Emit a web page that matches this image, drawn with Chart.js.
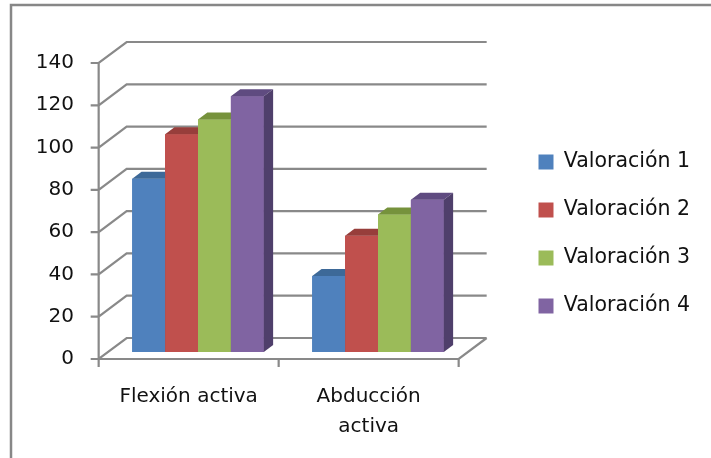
<!DOCTYPE html>
<html>
<head>
<meta charset="utf-8">
<script src="https://cdn.jsdelivr.net/npm/chart.js@4/dist/chart.umd.min.js"></script>
<style>
  html, body { margin: 0; padding: 0; background: #fff; overflow: hidden; }
  canvas { display: block; }
</style>
</head>
<body>
<canvas id="c" width="711" height="458"></canvas>
<script>
// ---- data ----
const categories = [['Flexión activa'], ['Abducción', 'activa']];
const seriesNames = ['Valoración 1', 'Valoración 2', 'Valoración 3', 'Valoración 4'];
const valoracion1 = [82, 36];
const valoracion2 = [103, 55];
const valoracion3 = [110, 65];
const valoracion4 = [121, 72];
const yTicks = [0, 20, 40, 60, 80, 100, 120, 140];

// ---- styling ----
const frontColors = ['#4F81BD', '#C0504D', '#9BBB59', '#8064A2'];
const topColors   = ['#3D6998', '#973E3B', '#76923C', '#5F4B80'];
const sideColors  = ['#35597F', '#86352F', '#6A8535', '#4F3F6B'];
const FONT = "'DejaVu Sans'";
const FS = 20;
const LEGEND_FS = 20.5;
const GRID = '#898989';
const TEXT = '#111';

// Oblique depth of the 3-D box; the bars sit in its middle third
const DEPTH_X = 28, DEPTH_Y = -21;
const BAR_D = 1 / 3;
const FRONT_X = -DEPTH_X * BAR_D, FRONT_Y = -DEPTH_Y * BAR_D;            // front plane, relative to bar plane
const BACK_X = DEPTH_X * (1 - BAR_D), BACK_Y = DEPTH_Y * (1 - BAR_D);    // back wall, relative to bar plane

const LEGEND_PAD = 27.5;
const LEGEND_W = 200;
const LEGEND_TOP = 56, LEGEND_BOTTOM = 412;

const box3d = {
  id: 'box3d',
  beforeLayout(chart) {
    // keep the legend box wide enough for its labels
    const lg = chart.legend;
    if (lg && !lg._fixedWidth) {
      const fit = lg.fit;
      lg.fit = function () { fit.call(this); this.width = LEGEND_W; };
      lg._fixedWidth = true;
    }
  },
  afterLayout(chart) {
    // centre the legend column beside the plot rather than the whole canvas
    const lg = chart.legend;
    if (lg) {
      lg.top = LEGEND_TOP;
      lg.bottom = LEGEND_BOTTOM;
      lg.height = LEGEND_BOTTOM - LEGEND_TOP;
    }
  },
  beforeDraw(chart) {
    const ctx = chart.ctx;
    ctx.save();
    ctx.strokeStyle = '#878787';
    ctx.lineWidth = 2.5;
    ctx.strokeRect(11, 5, 760, 520);
    ctx.restore();
  },
  beforeDatasetsDraw(chart) {
    const { ctx, chartArea: a, scales: { x, y } } = chart;
    const y0 = y.getPixelForValue(0);
    const yMax = y.getPixelForValue(y.max);
    ctx.save();
    ctx.strokeStyle = GRID;
    ctx.lineWidth = 2.2;
    ctx.beginPath();
    y.ticks.forEach(t => {
      const py = y.getPixelForValue(t.value);
      // tick mark on the front axis
      ctx.moveTo(a.left + FRONT_X - 8, py + FRONT_Y);
      ctx.lineTo(a.left + FRONT_X, py + FRONT_Y);
      // side wall and back wall gridline
      ctx.lineTo(a.left + BACK_X, py + BACK_Y);
      ctx.lineTo(a.right + BACK_X, py + BACK_Y);
    });
    // front value axis
    ctx.moveTo(a.left + FRONT_X, yMax + FRONT_Y);
    ctx.lineTo(a.left + FRONT_X, y0 + FRONT_Y + 8);
    // floor: front edge and right edge
    ctx.moveTo(a.left + FRONT_X, y0 + FRONT_Y);
    ctx.lineTo(a.right + FRONT_X, y0 + FRONT_Y);
    ctx.lineTo(a.right + BACK_X, y0 + BACK_Y);
    // category separators
    for (let i = 0; i <= categories.length; i++) {
      const px = x.getPixelForValue(i - 0.5) + FRONT_X;
      ctx.moveTo(px, y0 + FRONT_Y);
      ctx.lineTo(px, y0 + FRONT_Y + 8);
    }
    ctx.stroke();
    ctx.restore();
  },
  afterDatasetsDraw(chart) {
    // redraw columns left to right, each with its top and side faces
    const ctx = chart.ctx;
    const dx = DEPTH_X * BAR_D, dy = DEPTH_Y * BAR_D;
    const metas = chart.data.datasets.map((d, i) => chart.getDatasetMeta(i));
    for (let c = 0; c < categories.length; c++) {
      metas.forEach((m, i) => {
        const bar = m.data[c];
        bar.draw(ctx);
        const { x, y, base, width } = bar.getProps(['x', 'y', 'base', 'width'], true);
        const l = x - width / 2, r = x + width / 2;
        ctx.save();
        ctx.fillStyle = topColors[i];
        ctx.beginPath();
        ctx.moveTo(l, y); ctx.lineTo(l + dx, y + dy); ctx.lineTo(r + dx, y + dy); ctx.lineTo(r, y);
        ctx.closePath(); ctx.fill();
        ctx.fillStyle = sideColors[i];
        ctx.beginPath();
        ctx.moveTo(r, y); ctx.lineTo(r + dx, y + dy); ctx.lineTo(r + dx, base + dy); ctx.lineTo(r, base);
        ctx.closePath(); ctx.fill();
        ctx.restore();
      });
    }
  }
};

const seriesValues = [valoracion1, valoracion2, valoracion3, valoracion4];

new Chart(document.getElementById('c'), {
  type: 'bar',
  data: {
    labels: categories,
    datasets: seriesNames.map((name, i) => ({
      label: name,
      data: seriesValues[i],
      backgroundColor: frontColors[i],
      borderWidth: 0,
      barPercentage: 1,
      categoryPercentage: 0.731
    }))
  },
  options: {
    responsive: false,
    devicePixelRatio: 1,
    animation: false,
    layout: { padding: { top: 56, bottom: 16, left: 0, right: 0 } },
    plugins: {
      tooltip: { enabled: false },
      legend: {
        position: 'right',
        labels: {
          boxWidth: 15,
          boxHeight: 15,
          padding: LEGEND_PAD,
          color: TEXT,
          font: { family: FONT, size: LEGEND_FS }
        }
      }
    },
    scales: {
      x: {
        grid: { display: false, drawTicks: false },
        border: { display: false },
        ticks: {
          color: TEXT,
          font: { family: FONT, size: FS, lineHeight: 1.5 },
          padding: 30,
          labelOffset: FRONT_X,
          maxRotation: 0,
          autoSkip: false
        },
        afterFit(s) { s.height = 90; }
      },
      y: {
        min: 0,
        max: 140,
        grid: { display: false, drawTicks: false },
        border: { display: false },
        afterBuildTicks(s) { s.ticks = yTicks.map(v => ({ value: v })); },
        ticks: {
          color: TEXT,
          font: { family: FONT, size: FS },
          padding: 34,
          labelOffset: FRONT_Y
        },
        afterFit(s) { s.width = 108; }
      },
      spacer: {
        type: 'linear',
        position: 'right',
        display: true,
        grid: { display: false, drawTicks: false },
        border: { display: false },
        ticks: { display: false },
        afterFit(s) { s.width = 70.5 - LEGEND_PAD; }
      }
    }
  },
  plugins: [box3d]
});
</script>
</body>
</html>
